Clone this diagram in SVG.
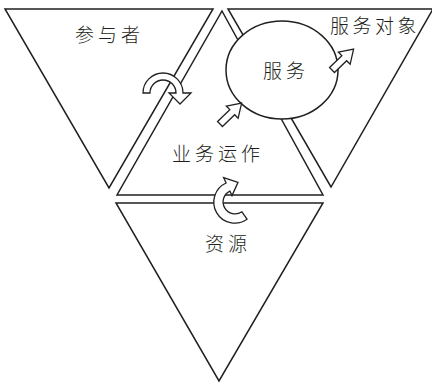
<svg xmlns="http://www.w3.org/2000/svg" width="432" height="385" viewBox="0 0 432 385">
<style>
.tri{fill:#fff;stroke:#231f20;stroke-width:1.5;stroke-linejoin:miter}
.arr{fill:#fff;stroke:#231f20;stroke-width:1.3;stroke-linejoin:miter}
.lbl{font-family:"Noto Sans CJK SC","Noto Sans",sans-serif;font-size:19px;font-weight:300;fill:#231f20;letter-spacing:4px}
</style>
<rect width="432" height="385" fill="#fff"/>
<g id="participants">
<polygon class="tri" points="5,9 213,9 109,188"/>
<text class="lbl" x="75" y="42">参与者</text>
</g>
<g id="customers">
<polygon class="tri" points="228,9 433,9 331,187"/>
<text class="lbl" x="330" y="33" style="letter-spacing:3.5px">服务对象</text>
</g>
<g id="operations">
<polygon class="tri" points="222,11 323,195 117,195"/>
<text class="lbl" x="172" y="161">业务运作</text>
</g>
<g id="resources">
<polygon class="tri" points="116,203 323,203 219,381"/>
<text class="lbl" x="205" y="251">资源</text>
</g>
<g id="service">
<ellipse class="tri" cx="282" cy="70" rx="56" ry="49"/>
<text class="lbl" x="263" y="78">服务</text>
</g>
<g id="connectors">
<path class="arr" d="M143,93 A20,20 0 0 1 183,93 L191,93 L180,104 L169,93 L176,93 A13,13 0 0 0 150,93 Z"/>
<path class="arr" d="M247,219.2 A21,21 0 1 1 226.1,183 L223.6,177.6 L238,182.3 L232,195.6 L229.9,191.1 A12,12 0 1 0 241.9,211.8 Z"/>
<path class="arr" d="M0,-3.5 L17,-3.5 L17,-8.5 L30,0 L17,8.5 L17,3.5 L0,3.5 Z" transform="translate(220,124) rotate(-44)"/>
<path class="arr" d="M0,-3.5 L17,-3.5 L17,-8.5 L30,0 L17,8.5 L17,3.5 L0,3.5 Z" transform="translate(332,70) rotate(-44)"/>
</g>
</svg>
